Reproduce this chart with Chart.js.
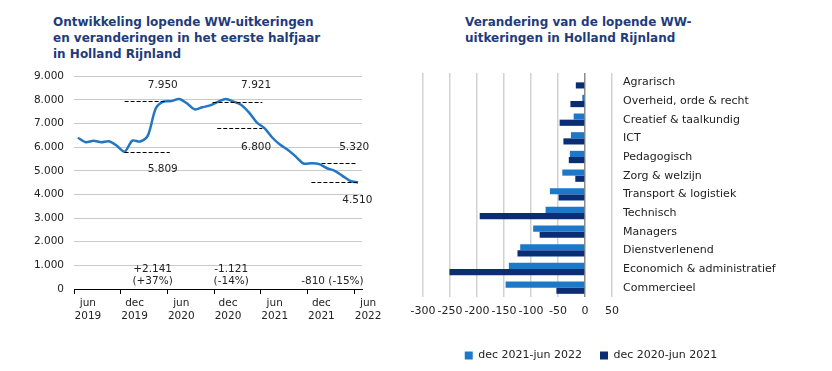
<!DOCTYPE html>
<html lang="nl">
<head>
<meta charset="utf-8">
<title>WW-uitkeringen Holland Rijnland</title>
<script src="https://cdn.jsdelivr.net/npm/chart.js@4.4.1/dist/chart.umd.min.js"></script>
<style>
  body { margin: 0; background: #fff; font-family: "DejaVu Sans", Verdana, sans-serif; }
  #pagina { position: relative; width: 832px; height: 371px; overflow: hidden; }
  .titel { position: absolute; color: #1f3c7a; font-weight: bold; font-size: 12px; line-height: 16px; }
  #titel-links { left: 53px; top: 14px; }
  #titel-rechts { left: 465px; top: 14px; }
  .vak { position: absolute; }
  #vak-links { left: 0; top: 60px; width: 400px; height: 269px; }
  #vak-rechts { left: 400px; top: 60px; width: 382px; height: 311px; }
</style>
</head>
<body>
<div id="pagina">
  <div class="titel" id="titel-links">Ontwikkeling lopende WW-uitkeringen<br>en veranderingen in het eerste halfjaar<br>in Holland Rijnland</div>
  <div class="titel" id="titel-rechts">Verandering van de lopende WW-<br>uitkeringen in Holland Rijnland</div>
  <div class="vak" id="vak-links"><canvas id="lijnChart"></canvas></div>
  <div class="vak" id="vak-rechts"><canvas id="staafChart"></canvas></div>
</div>
<script>
// Maanden (jun 2019 t/m jun 2022)
const maanden = [
  "jun 2019", "jul 2019", "aug 2019", "sep 2019", "okt 2019", "nov 2019",
  "dec 2019", "jan 2020", "feb 2020", "mrt 2020", "apr 2020", "mei 2020",
  "jun 2020", "jul 2020", "aug 2020", "sep 2020", "okt 2020", "nov 2020",
  "dec 2020", "jan 2021", "feb 2021", "mrt 2021", "apr 2021", "mei 2021",
  "jun 2021", "jul 2021", "aug 2021", "sep 2021", "okt 2021", "nov 2021",
  "dec 2021", "jan 2022", "feb 2022", "mrt 2022", "apr 2022", "mei 2022",
  "jun 2022"
];

// Lopende WW-uitkeringen per maand
const lopendeUitkeringen = [
  6400, 6210, 6270, 6210, 6250, 6060,
  5809, 6280, 6240, 6500, 7640, 7930,
  7950, 8040, 7860, 7600, 7690, 7770,
  7921, 8040, 7930, 7785, 7460, 7040,
  6800, 6400, 6100, 5885, 5600, 5310,
  5320, 5285, 5110, 5000, 4785, 4570,
  4510
];

// Stippellijnen (maandindex van/tot, niveau)
const stippellijnen = [
  { van: 6, tot: 11.4, waarde: 7950 },
  { van: 6, tot: 11.8, waarde: 5809 },
  { van: 17.3, tot: 23.7, waarde: 7921 },
  { van: 17.9, tot: 23.7, waarde: 6800 },
  { van: 31.3, tot: 35.8, waarde: 5320 },
  { van: 30, tot: 35.9, waarde: 4510 }
];

// Tekstlabels in de lijngrafiek
const lijnTeksten = [
  { tekst: "7.950", maand: 10.9, waarde: 8620 },
  { tekst: "5.809", maand: 10.9, waarde: 5060 },
  { tekst: "7.921", maand: 22.9, waarde: 8620 },
  { tekst: "6.800", maand: 22.9, waarde: 5985 },
  { tekst: "5.320", maand: 35.5, waarde: 5985 },
  { tekst: "4.510", maand: 35.9, waarde: 3740 },
  { tekst: "+2.141", maand: 9.6, waarde: 840 },
  { tekst: "(+37%)", maand: 9.6, waarde: 307 },
  { tekst: "-1.121", maand: 19.7, waarde: 840 },
  { tekst: "(-14%)", maand: 19.7, waarde: 307 },
  { tekst: "-810 (-15%)", maand: 32.7, waarde: 307 }
];

// Beroepsklassen en veranderingen
const beroepsklassen = [
  "Agrarisch", "Overheid, orde & recht", "Creatief & taalkundig", "ICT",
  "Pedagogisch", "Zorg & welzijn", "Transport & logistiek", "Technisch",
  "Managers", "Dienstverlenend", "Economich & administratief", "Commercieel"
];
const verandering2022 = [0, -5, -21, -26, -28, -42, -65, -73, -96, -120, -141, -147];
const verandering2021 = [-17, -27, -47, -40, -30, -18, -49, -195, -84, -125, -251, -53];

const xTickWaarden = [-300, -250, -200, -150, -100, -50, 0, 50];

Chart.defaults.font.family = '"DejaVu Sans", Verdana, sans-serif';
Chart.defaults.font.size = 10.5;
Chart.defaults.color = "#222";

/** Getal met punt als duizendtalscheiding */
function formatNL(v) {
  return String(v).replace(/\B(?=(\d{3})+(?!\d))/g, ".");
}

// Plugin voor stippellijnen en teksten
const annotatiePlugin = {
  id: "annotaties",
  afterDatasetsDraw(chart) {
    const ctx = chart.ctx;
    const xs = chart.scales.x;
    const ys = chart.scales.y;
    ctx.save();
    ctx.strokeStyle = "#000";
    ctx.lineWidth = 1;
    ctx.setLineDash([4, 2]);
    stippellijnen.forEach(l => {
      const y = Math.round(ys.getPixelForValue(l.waarde)) + 0.5;
      ctx.beginPath();
      ctx.moveTo(xs.getPixelForValue(l.van), y);
      ctx.lineTo(xs.getPixelForValue(l.tot), y);
      ctx.stroke();
    });
    ctx.setLineDash([]);
    ctx.fillStyle = "#222";
    ctx.font = '10.5px "DejaVu Sans", Verdana, sans-serif';
    ctx.textAlign = "center";
    ctx.textBaseline = "middle";
    lijnTeksten.forEach(t => {
      ctx.fillText(t.tekst, xs.getPixelForValue(t.maand), ys.getPixelForValue(t.waarde));
    });
    ctx.restore();
  }
};

new Chart(document.getElementById("lijnChart"), {
  type: "line",
  data: {
    labels: maanden,
    datasets: [{
      label: "Lopende WW-uitkeringen",
      data: lopendeUitkeringen,
      borderColor: "#2377c1",
      borderWidth: 2.5,
      pointRadius: 0,
      tension: 0.3,
      fill: false
    }]
  },
  options: {
    responsive: true,
    maintainAspectRatio: false,
    animation: false,
    layout: { padding: { top: 15, right: 38, left: 0, bottom: 0 } },
    plugins: { legend: { display: false }, tooltip: { enabled: false } },
    scales: {
      x: {
        offset: true,
        grid: {
          offset: true,
          drawOnChartArea: false,
          drawTicks: true,
          tickLength: 5,
          tickColor: c => (c.index % 6 === 0 ? "#000" : "rgba(0,0,0,0)")
        },
        border: { display: true, color: "#000", width: 1 },
        ticks: {
          autoSkip: false,
          maxRotation: 0,
          labelOffset: 10,
          padding: 3,
          font: { size: 10.5, lineHeight: 1.25 },
          callback: function (v, i) {
            return i % 6 === 0 ? maanden[i].split(" ") : "";
          }
        },
        afterFit: s => { s.height = 40; }
      },
      y: {
        min: 0,
        max: 9000,
        grid: { color: "#c8c8c8", drawTicks: false },
        border: { display: false },
        ticks: { stepSize: 1000, padding: 10, callback: v => formatNL(v) },
        afterFit: s => { s.width = 74; }
      }
    }
  },
  plugins: [annotatiePlugin]
});

new Chart(document.getElementById("staafChart"), {
  type: "bar",
  data: {
    labels: beroepsklassen,
    datasets: [
      {
        label: "dec 2021-jun 2022",
        data: verandering2022,
        backgroundColor: "#1c78c8",
        barPercentage: 1.0,
        categoryPercentage: 0.66
      },
      {
        label: "dec 2020-jun 2021",
        data: verandering2021,
        backgroundColor: "#0a2d74",
        barPercentage: 1.0,
        categoryPercentage: 0.66
      }
    ]
  },
  options: {
    indexAxis: "y",
    responsive: true,
    maintainAspectRatio: false,
    animation: false,
    layout: { padding: { top: 13, left: 0, right: 0, bottom: 0 } },
    plugins: {
      tooltip: { enabled: false },
      legend: {
        position: "bottom",
        labels: { boxWidth: 8, boxHeight: 8, padding: 18, color: "#222", font: { size: 11 } }
      }
    },
    scales: {
      x: {
        min: -300,
        max: 50,
        afterBuildTicks: s => { s.ticks = xTickWaarden.map(v => ({ value: v })); },
        grid: {
          color: c => (c.tick && c.tick.value === 0 ? "#8c8c8c" : "#d2d2d2"),
          lineWidth: 1.5,
          drawTicks: false
        },
        border: { display: false },
        ticks: { padding: 8, autoSkip: false, maxRotation: 0, minRotation: 0, font: { size: 11 } },
        afterFit: s => { s.height = 35; s.paddingLeft = 23; }
      },
      y: {
        position: "right",
        grid: { display: false, drawTicks: false },
        border: { display: false },
        ticks: { padding: 11, crossAlign: "near", font: { size: 11 } },
        afterFit: s => { s.width = 170; s.paddingTop = 0; s.paddingBottom = 0; }
      }
    }
  }
});
</script>
</body>
</html>
